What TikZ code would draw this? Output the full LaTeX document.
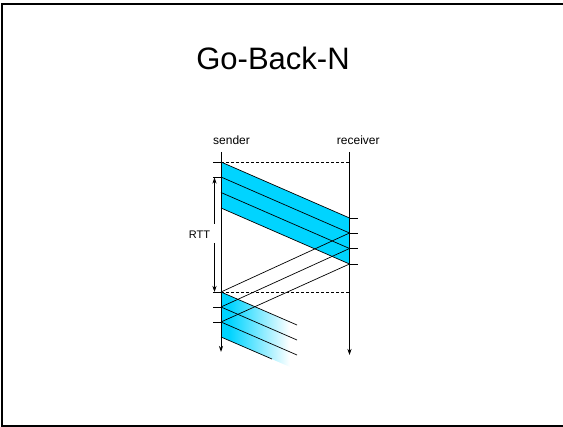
\documentclass[tikz,border=0pt]{standalone}
\usepackage{fontspec}
\setmainfont{Liberation Sans}
\usetikzlibrary{arrows.meta}
\definecolor{pkt}{RGB}{0,212,255}
% packets fading out to the right
\pgfdeclarehorizontalshading{pktfade}{100bp}{%
  color(0bp)=(pkt); color(25bp)=(pkt); color(30bp)=(pkt);
  color(66bp)=(white); color(100bp)=(white)}
\begin{document}
\begin{tikzpicture}[x=1pt,y=-1pt,
  every node/.style={inner sep=0pt},
  tip/.style={-{Stealth[length=6pt,width=4pt]}},
  timeline/.style={line width=0.8pt, tip},
  msg/.style={line width=0.7pt},
  tickmark/.style={line width=0.7pt},
  sync/.style={line width=0.6pt, dash pattern=on 3pt off 2pt},
  lbl/.style={font=\fontsize{12}{14}\selectfont},
]
\useasboundingbox (0,0) rectangle (563,427);
% slide frame
\draw[line width=2pt] (563,4.3) -- (1.8,4.3) -- (1.8,426) -- (563,426);

% title and lane labels
\node (title) at (273,58) {\fontsize{31}{36}\selectfont Go-Back-N};
\node[lbl, anchor=base] (snd) at (231.5,145) {sender};
\node[lbl, anchor=base] (rcv) at (358.3,145) {receiver};

% time lines
\coordinate (sTop) at (221,152);
\coordinate (sEnd) at (221,352);
\coordinate (rTop) at (349.5,152);
\coordinate (rEnd) at (349.5,355);

% first window: send times and arrival times
\coordinate (s1) at (221,162);
\coordinate (s2) at (221,177);
\coordinate (s3) at (221,192.5);
\coordinate (s4) at (221,208);
\coordinate (r1) at (349.5,218);
\coordinate (r2) at (349.5,233);
\coordinate (r3) at (349.5,248.5);
\coordinate (r4) at (349.5,264);

% acks arriving at the sender, next window
\coordinate (t1) at (221,292);
\coordinate (t2) at (221,307);
\coordinate (t3) at (221,322);
\coordinate (t4) at (221,337);
\coordinate (e1) at (297,325);
\coordinate (e2) at (297,340);
\coordinate (e3) at (297,355);
\coordinate (e4) at (272,359);

% packets in flight
\fill[pkt] (s1) -- (r1) -- (r4) -- (s4) -- cycle;
\shade[shading=pktfade]
  (t1) -- (305,328.5) -- (305,373.5) -- (t4) -- cycle;

\draw[msg] (s1) -- (r1);
\draw[msg] (s2) -- (r2);
\draw[msg] (s3) -- (r3);
\draw[msg] (s4) -- (r4);
\draw[msg] (t1) -- (e1);
\draw[msg] (t2) -- (e2);
\draw[msg] (t3) -- (e3);
\draw[msg] (t4) -- (e4);

% acknowledgements
\draw[msg] (r2) -- (t1);
\draw[msg] (r3) -- (t2);
\draw[msg] (r4) -- (t3);

% sender and receiver time axes
\draw[timeline] (sTop) -- (sEnd);
\draw[timeline] (rTop) -- (rEnd);

% dashed reference lines
\draw[sync] (s1) -- (s1 -| rTop);
\draw[sync] (t1) -- (t1 -| rTop);

% ticks
\foreach \c in {s1,s2,t1,t2,t3}
  \draw[tickmark] (\c) -- ++(-8,0);
\foreach \c in {r1,r2,r3,r4}
  \draw[tickmark] (\c) -- ++(8,0);

% round trip time
\node[font=\fontsize{11}{13}\selectfont] (rtt) at (199.5,235) {RTT};
\coordinate (rttUp) at (214.5,224);
\coordinate (rttTop) at (214.5,177.5);
\coordinate (rttDown) at (214.5,243);
\coordinate (rttBot) at (214.5,292);
\draw[line width=0.7pt, tip] (rttUp) -- (rttTop);
\draw[line width=0.7pt, tip] (rttDown) -- (rttBot);
\end{tikzpicture}
\end{document}
